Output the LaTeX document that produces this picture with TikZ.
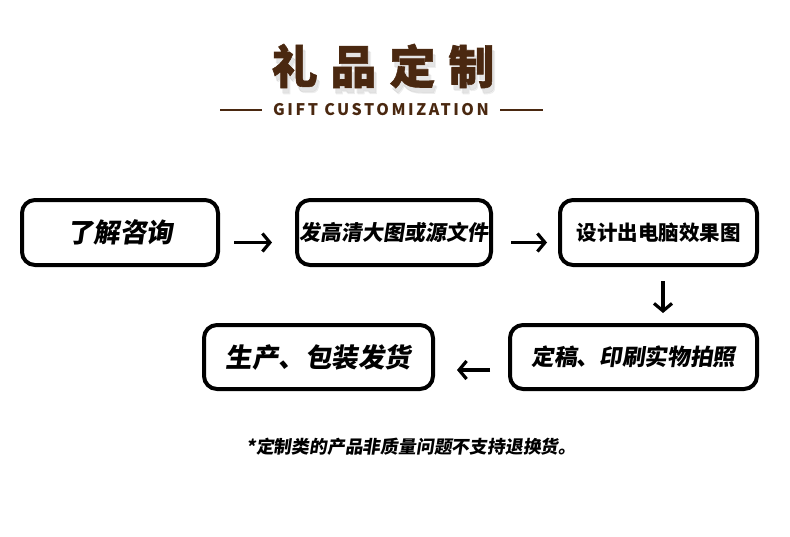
\documentclass[tikz,border=0pt]{standalone}
\usepackage{fontspec}
\usetikzlibrary{arrows.meta,calc}
\newfontfamily\cjk{Noto Sans CJK SC}
\newfontfamily\cjkheavy{Noto Sans CJK SC}[FakeBold=1.2]
\newfontfamily\cjksl{Noto Sans CJK SC}[FakeSlant=0.15]
\newfontfamily\subfont{Noto Sans CJK SC}[LetterSpace=16]
\definecolor{brownT}{HTML}{4A2810}
\newcommand\mytitle{礼\hspace{13pt}品\hspace{13pt}定\hspace{13pt}制}
\newcommand\strokedtitle[2]{\special{pdf:literal direct 2 Tr #1 w 1 J 1 j #2 RG}\mytitle\special{pdf:literal direct 0 Tr}}
\tikzset{
  stepbox/.style={draw=black,line width=4pt,rounded corners=13pt,fill=white,
    minimum height=65pt,inner sep=0pt,text=black},
  flowarrow/.style={line width=3.2pt,-{Straight Barb[length=7.5pt,width=18pt]}},
  titletxt/.style={font=\cjkheavy\bfseries\fontsize{46pt}{50pt}\selectfont,inner sep=0pt}
}
\begin{document}
\begin{tikzpicture}[x=1pt,y=-1pt]
\useasboundingbox[fill=white] (0,0) rectangle (790,536);
% soft title shadow
\node[titletxt,text=black!40,opacity=0.12] (tshadowA) at (386,72) {\strokedtitle{13}{0.6 0.6 0.6}};
\node[titletxt,text=black!40,opacity=0.15] (tshadowB) at (385,71) {\strokedtitle{8}{0.6 0.6 0.6}};
% white outline
\node[titletxt,text=white] (toutline) at (383,66) {\strokedtitle{6}{1 1 1}};
\node[titletxt,text=brownT] (title) at (383,66) {\mytitle};
% subtitle
\node[font=\subfont\bfseries\fontsize{16pt}{18pt}\selectfont,text=brownT,inner sep=0pt] (sub) at (381,110) {GIFT CUSTOMIZATION};
\coordinate (l1a) at (220,110); \coordinate (l1b) at (262,110);
\coordinate (l2a) at (500,110); \coordinate (l2b) at (543,110);
\draw[brownT,line width=1.8pt] (l1a) -- (l1b);
\draw[brownT,line width=1.8pt] (l2a) -- (l2b);
% boxes
\node[stepbox,minimum width=196pt,font=\cjksl\bfseries\fontsize{26.5pt}{28pt}\selectfont] (b1) at (120,232.5) {了解咨询};
\node[stepbox,minimum width=194pt,font=\cjksl\bfseries\fontsize{21pt}{24pt}\selectfont] (b2) at (394,232.5) {发高清大图或源文件};
\node[stepbox,minimum width=197pt,font=\cjk\bfseries\fontsize{20.5pt}{24pt}\selectfont] (b3) at (658.5,232.5) {设计出电脑效果图};
\node[stepbox,minimum width=247pt,minimum height=64pt,font=\cjksl\bfseries\fontsize{22.7pt}{25pt}\selectfont] (b4) at (633.5,357) {定稿、印刷实物拍照};
\node[stepbox,minimum width=229pt,minimum height=64pt,font=\cjksl\bfseries\fontsize{26.5pt}{28pt}\selectfont] (b5) at (318.5,357) {生产、包装发货};
% arrows
\draw[flowarrow,shorten <=14pt,shorten >=23pt] ($(b1.east)+(0,10)$) -- ($(b2.west)+(0,10)$);
\draw[flowarrow,shorten <=18pt,shorten >=11pt] ($(b2.east)+(0,10)$) -- ($(b3.west)+(0,10)$);
\draw[flowarrow,shorten <=14pt,shorten >=10pt] ($(b3.south)+(4.5,0)$) -- ($(b4.north)+(29.5,0)$);
\draw[flowarrow,shorten <=18pt,shorten >=22pt] ($(b4.west)+(0,13)$) -- ($(b5.east)+(0,13)$);
% footnote
\node[font=\cjksl\bfseries\fontsize{17.8pt}{19pt}\selectfont,inner sep=0pt] (note) at (411.5,447) {*定制类的产品非质量问题不支持退换货。};
\end{tikzpicture}
\end{document}
